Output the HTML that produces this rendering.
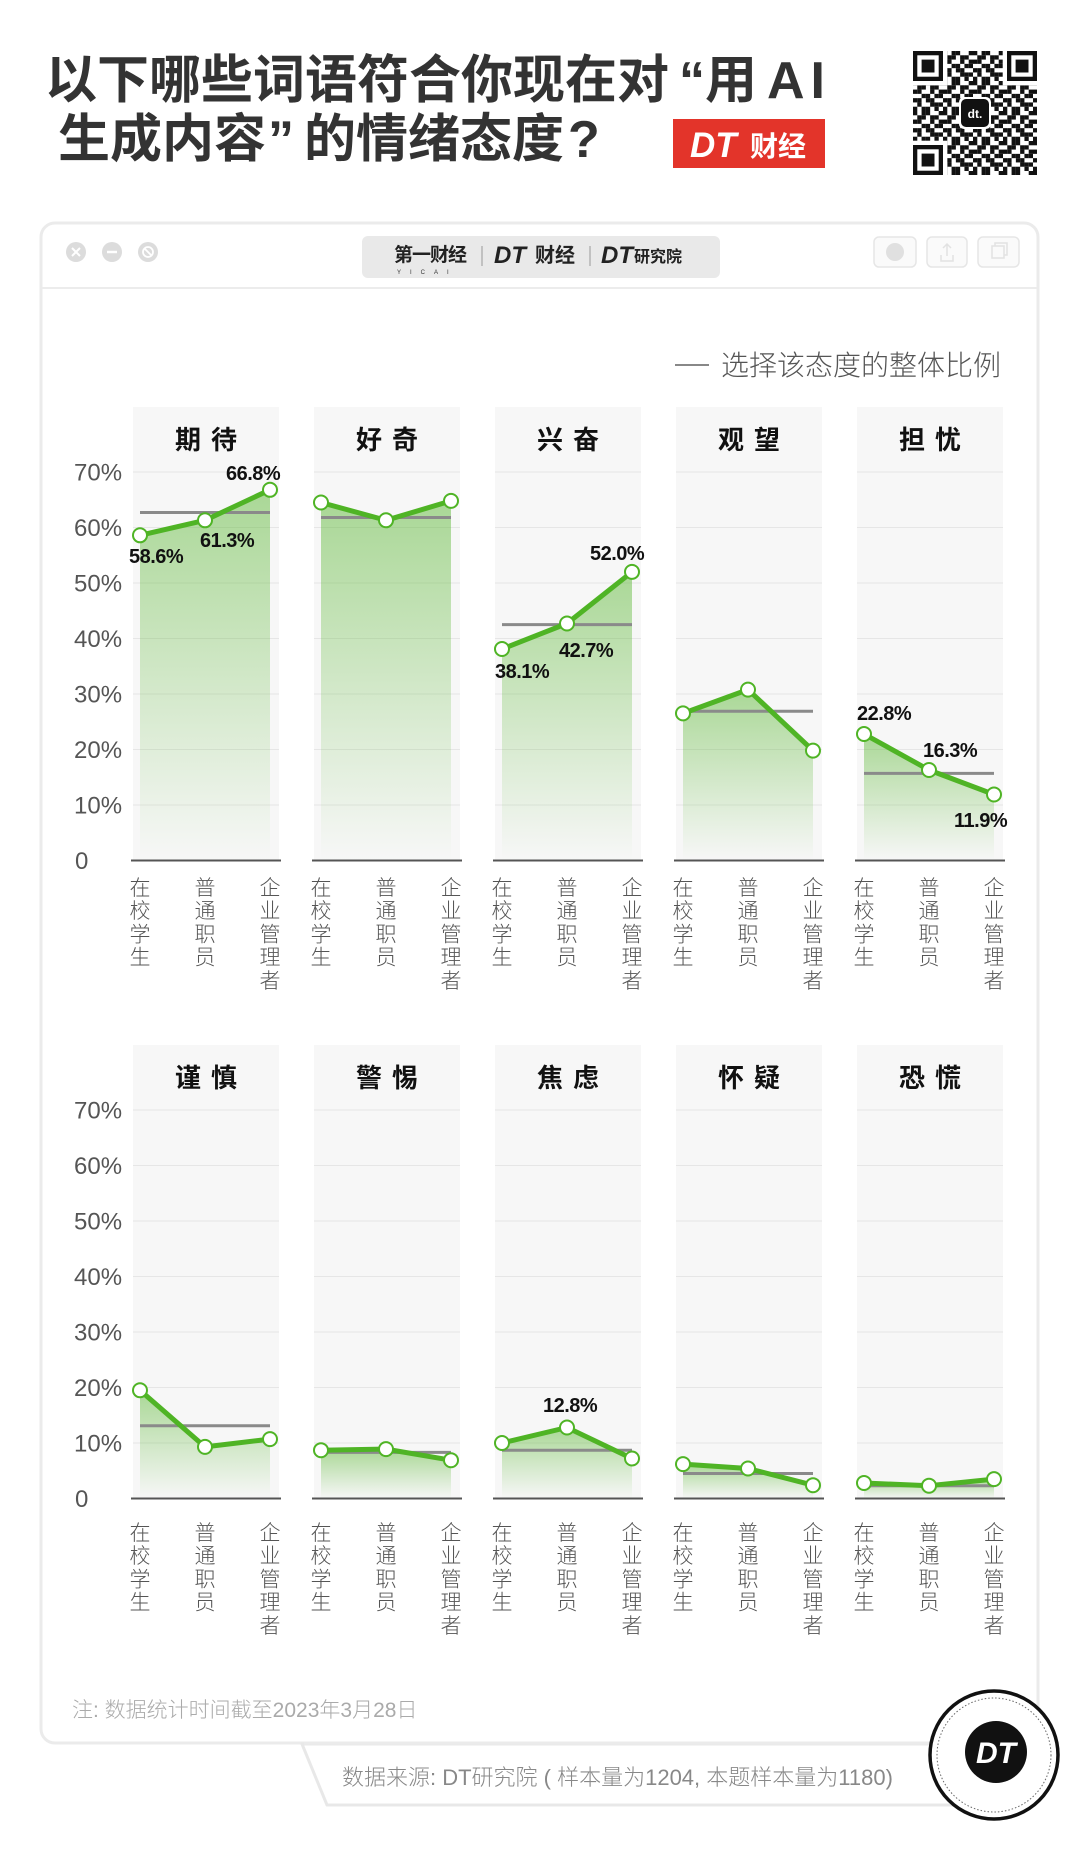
<!DOCTYPE html>
<html>
<head>
<meta charset="utf-8">
<style>
  html,body{margin:0;padding:0;background:#fff;}
  svg{display:block;}
  .t{font-family:"Liberation Sans","Noto Sans CJK SC",sans-serif;}
  .ttl{font-size:52px;font-weight:700;fill:#333;}
  .yl{font-size:24px;fill:#555;}
  .xl{font-size:21px;fill:#555;text-anchor:middle;font-weight:300;}
  .pt{font-size:26px;font-weight:700;fill:#111;}
  .vl{font-size:20px;font-weight:700;fill:#111;letter-spacing:-0.5px;}
  .gl{stroke:#e6e6e6;stroke-width:1;fill:none;}
  .ax{stroke:#555;stroke-width:2;fill:none;}
  .ov{stroke:#8a8a8a;stroke-width:3;}
  .ln{fill:none;stroke:#4fb425;stroke-width:5;stroke-linejoin:round;stroke-linecap:round;}
  .dot{fill:#fff;stroke:#4fb425;stroke-width:2;}
  .pb{fill:#f7f7f7;}
  .ar{fill:url(#gf);}
</style>
</head>
<body>
<svg width="1080" height="1850" viewBox="0 0 1080 1850" xmlns="http://www.w3.org/2000/svg">
<defs>
  <linearGradient id="gf" x1="0" y1="0" x2="0" y2="1">
    <stop offset="0" stop-color="#5cb835" stop-opacity="0.5"/>
    <stop offset="1" stop-color="#5cb835" stop-opacity="0"/>
  </linearGradient>
  <pattern id="qr" patternUnits="userSpaceOnUse" x="913" y="51" width="30" height="30">
    <g fill="#111">
      <rect x="0" y="0" width="4.3" height="4.3"/><rect x="8.57" y="0" width="4.3" height="4.3"/><rect x="12.86" y="0" width="4.3" height="4.3"/><rect x="25.71" y="0" width="4.3" height="4.3"/>
      <rect x="4.28" y="4.28" width="4.3" height="4.3"/><rect x="8.57" y="4.28" width="4.3" height="4.3"/><rect x="17.14" y="4.28" width="4.3" height="4.3"/><rect x="21.43" y="4.28" width="4.3" height="4.3"/>
      <rect x="0" y="8.57" width="4.3" height="4.3"/><rect x="4.28" y="8.57" width="4.3" height="4.3"/><rect x="17.14" y="8.57" width="4.3" height="4.3"/><rect x="25.71" y="8.57" width="4.3" height="4.3"/>
      <rect x="8.57" y="12.86" width="4.3" height="4.3"/><rect x="12.86" y="12.86" width="4.3" height="4.3"/><rect x="21.43" y="12.86" width="4.3" height="4.3"/><rect x="25.71" y="12.86" width="4.3" height="4.3"/>
      <rect x="0" y="17.14" width="4.3" height="4.3"/><rect x="4.28" y="17.14" width="4.3" height="4.3"/><rect x="12.86" y="17.14" width="4.3" height="4.3"/><rect x="17.14" y="17.14" width="4.3" height="4.3"/>
      <rect x="4.28" y="21.43" width="4.3" height="4.3"/><rect x="17.14" y="21.43" width="4.3" height="4.3"/><rect x="21.43" y="21.43" width="4.3" height="4.3"/><rect x="25.71" y="21.43" width="4.3" height="4.3"/>
      <rect x="0" y="25.71" width="4.3" height="4.3"/><rect x="8.57" y="25.71" width="4.3" height="4.3"/><rect x="12.86" y="25.71" width="4.3" height="4.3"/><rect x="21.43" y="25.71" width="4.3" height="4.3"/>
    </g>
  </pattern>
</defs>

<!-- Header title -->
<text class="t ttl" x="45" y="98">以下哪些词语符合你现在对</text>
<text class="t ttl" x="679" y="98">“</text>
<text class="t ttl" x="705" y="98">用</text>
<text class="t ttl" x="767" y="98" textLength="58" lengthAdjust="spacing">AI</text>
<text class="t ttl" x="58" y="157">生成内容</text>
<text class="t ttl" x="268" y="157">”</text>
<text class="t ttl" x="304" y="157">的情绪态度</text>
<text class="t ttl" x="568" y="157">?</text>

<!-- Red logo -->
<rect x="673" y="119" width="152" height="49" fill="#e3342a"/>
<text class="t" x="690" y="157" font-size="35" font-weight="700" font-style="italic" fill="#fff">DT</text>
<text class="t" x="750" y="156" font-size="28" font-weight="700" fill="#fff">财经</text>

<!-- QR code -->
<rect x="913" y="51" width="124" height="124" fill="url(#qr)"/>
<g>
  <rect x="913" y="51" width="34.3" height="34.3" fill="#fff"/>
  <rect x="913" y="51" width="30" height="30" fill="#111"/>
  <rect x="917.3" y="55.3" width="21.4" height="21.4" fill="#fff"/>
  <rect x="921.6" y="59.6" width="12.9" height="12.9" fill="#111"/>

  <rect x="1002.7" y="51" width="34.3" height="34.3" fill="#fff"/>
  <rect x="1007" y="51" width="30" height="30" fill="#111"/>
  <rect x="1011.3" y="55.3" width="21.4" height="21.4" fill="#fff"/>
  <rect x="1015.6" y="59.6" width="12.9" height="12.9" fill="#111"/>

  <rect x="913" y="140.7" width="34.3" height="34.3" fill="#fff"/>
  <rect x="913" y="145" width="30" height="30" fill="#111"/>
  <rect x="917.3" y="149.3" width="21.4" height="21.4" fill="#fff"/>
  <rect x="921.6" y="153.6" width="12.9" height="12.9" fill="#111"/>

  <rect x="959" y="97" width="32" height="32" rx="5" fill="#fff"/>
  <rect x="961" y="99" width="28" height="28" rx="5" fill="#111"/>
  <text class="t" x="975" y="118" font-size="12" font-weight="700" fill="#fff" text-anchor="middle">dt.</text>
</g>

<!-- Window -->
<rect x="41" y="223" width="997" height="1520" rx="14" fill="#fff" stroke="#ebebeb" stroke-width="3"/>
<line x1="42" y1="288" x2="1037" y2="288" stroke="#ececec" stroke-width="2"/>
<!-- window buttons -->
<circle cx="76" cy="252" r="10" fill="#dcdcdc"/>
<path d="M72 248l8 8M80 248l-8 8" stroke="#fff" stroke-width="2"/>
<circle cx="112" cy="252" r="10" fill="#dcdcdc"/>
<path d="M107 252h10" stroke="#fff" stroke-width="2.5"/>
<circle cx="148" cy="252" r="10" fill="#dcdcdc"/>
<circle cx="148" cy="252" r="5" fill="none" stroke="#fff" stroke-width="1.8"/>
<path d="M144.5 248.5l7 7" stroke="#fff" stroke-width="1.8"/>
<!-- pill -->
<rect x="362" y="236" width="358" height="42" rx="6" fill="#e9e9e9"/>
<text class="t" x="394" y="261" font-size="19" font-weight="700" fill="#222" letter-spacing="-1">第一财经</text>
<text class="t" x="397" y="274" font-size="6" fill="#333" letter-spacing="9">YICAI</text>
<line x1="482" y1="246" x2="482" y2="266" stroke="#999" stroke-width="1"/>
<text class="t" x="494" y="263" font-size="24" font-weight="700" font-style="italic" fill="#222">DT</text>
<text class="t" x="535" y="262" font-size="20" font-weight="700" fill="#222">财经</text>
<line x1="590" y1="246" x2="590" y2="266" stroke="#999" stroke-width="1"/>
<text class="t" x="601" y="263" font-size="24" font-weight="700" font-style="italic" fill="#222">DT</text>
<text class="t" x="634" y="262" font-size="16" font-weight="700" fill="#222">研究院</text>
<!-- right buttons -->
<rect x="874" y="237" width="42" height="30" rx="5" fill="#fafafa" stroke="#e6e6e6" stroke-width="1.5"/>
<circle cx="895" cy="252" r="9" fill="#e0e0e0"/>
<rect x="927" y="237" width="40" height="30" rx="5" fill="#fafafa" stroke="#e6e6e6" stroke-width="1.5"/>
<path d="M941 255v6h12v-6M947 244v12M943 248l4-4 4 4" fill="none" stroke="#e2e2e2" stroke-width="1.5"/>
<rect x="978" y="237" width="41" height="30" rx="5" fill="#fafafa" stroke="#e6e6e6" stroke-width="1.5"/>
<rect x="992" y="246" width="12" height="12" fill="none" stroke="#e2e2e2" stroke-width="1.5"/>
<path d="M995 246v-3h12v12h-3" fill="none" stroke="#e2e2e2" stroke-width="1.5"/>

<!-- Legend -->
<line x1="675" y1="365" x2="709" y2="365" stroke="#888" stroke-width="2"/>
<text class="t" x="721" y="375" font-size="28" font-weight="300" fill="#555">选择该态度的整体比例</text>

<!-- ===== TOP ROW ===== -->
<g>
  <rect class="pb" x="133" y="407" width="146" height="453"/>
  <rect class="pb" x="314" y="407" width="146" height="453"/>
  <rect class="pb" x="495" y="407" width="146" height="453"/>
  <rect class="pb" x="676" y="407" width="146" height="453"/>
  <rect class="pb" x="857" y="407" width="146" height="453"/>
  <path class="gl" d="M133 472h146M314 472h146M495 472h146M676 472h146M857 472h146
  M133 527.5h146M314 527.5h146M495 527.5h146M676 527.5h146M857 527.5h146
  M133 583h146M314 583h146M495 583h146M676 583h146M857 583h146
  M133 638.5h146M314 638.5h146M495 638.5h146M676 638.5h146M857 638.5h146
  M133 694h146M314 694h146M495 694h146M676 694h146M857 694h146
  M133 749.5h146M314 749.5h146M495 749.5h146M676 749.5h146M857 749.5h146
  M133 805h146M314 805h146M495 805h146M676 805h146M857 805h146"/>
  <path class="ax" d="M131 860.5h150M312 860.5h150M493 860.5h150M674 860.5h150M855 860.5h150"/>

  <!-- y labels -->
  <text class="t yl" x="74" y="480.5">70%</text>
  <text class="t yl" x="74" y="536">60%</text>
  <text class="t yl" x="74" y="591.5">50%</text>
  <text class="t yl" x="74" y="647">40%</text>
  <text class="t yl" x="74" y="702.5">30%</text>
  <text class="t yl" x="74" y="758">20%</text>
  <text class="t yl" x="74" y="813.5">10%</text>
  <text class="t yl" x="75" y="869">0</text>

  <!-- panel titles -->
  <text class="t pt" x="175" y="449">期</text><text class="t pt" x="211" y="449">待</text>
  <text class="t pt" x="356" y="449">好</text><text class="t pt" x="392" y="449">奇</text>
  <text class="t pt" x="537" y="449">兴</text><text class="t pt" x="573" y="449">奋</text>
  <text class="t pt" x="718" y="449">观</text><text class="t pt" x="754" y="449">望</text>
  <text class="t pt" x="899" y="449">担</text><text class="t pt" x="935" y="449">忧</text>

  <!-- areas -->
  <polygon class="ar" points="140,535.3 205,520.3 270,489.8 270,860.5 140,860.5"/>
  <polygon class="ar" points="321,502.5 386,520.3 451,500.9 451,860.5 321,860.5"/>
  <polygon class="ar" points="502,649 567,623.5 632,571.9 632,860.5 502,860.5"/>
  <polygon class="ar" points="683,713.4 748,689.6 813,750.6 813,860.5 683,860.5"/>
  <polygon class="ar" points="864,734 929,770 994,794.5 994,860.5 864,860.5"/>

  <!-- overall lines -->
  <line class="ov" x1="140" y1="512.5" x2="270" y2="512.5"/>
  <line class="ov" x1="321" y1="517.5" x2="451" y2="517.5"/>
  <line class="ov" x1="502" y1="624.6" x2="632" y2="624.6"/>
  <line class="ov" x1="683" y1="711.2" x2="813" y2="711.2"/>
  <line class="ov" x1="864" y1="773.4" x2="994" y2="773.4"/>

  <!-- series -->
  <polyline class="ln" points="140,535.3 205,520.3 270,489.8"/>
  <polyline class="ln" points="321,502.5 386,520.3 451,500.9"/>
  <polyline class="ln" points="502,649 567,623.5 632,571.9"/>
  <polyline class="ln" points="683,713.4 748,689.6 813,750.6"/>
  <polyline class="ln" points="864,734 929,770 994,794.5"/>

  <circle class="dot" cx="140" cy="535.3" r="7"/><circle class="dot" cx="205" cy="520.3" r="7"/><circle class="dot" cx="270" cy="489.8" r="7"/>
  <circle class="dot" cx="321" cy="502.5" r="7"/><circle class="dot" cx="386" cy="520.3" r="7"/><circle class="dot" cx="451" cy="500.9" r="7"/>
  <circle class="dot" cx="502" cy="649" r="7"/><circle class="dot" cx="567" cy="623.5" r="7"/><circle class="dot" cx="632" cy="571.9" r="7"/>
  <circle class="dot" cx="683" cy="713.4" r="7"/><circle class="dot" cx="748" cy="689.6" r="7"/><circle class="dot" cx="813" cy="750.6" r="7"/>
  <circle class="dot" cx="864" cy="734" r="7"/><circle class="dot" cx="929" cy="770" r="7"/><circle class="dot" cx="994" cy="794.5" r="7"/>

  <!-- value labels -->
  <text class="t vl" x="129" y="563">58.6%</text>
  <text class="t vl" x="200" y="547">61.3%</text>
  <text class="t vl" x="226" y="480">66.8%</text>
  <text class="t vl" x="495" y="678">38.1%</text>
  <text class="t vl" x="559" y="657">42.7%</text>
  <text class="t vl" x="590" y="560">52.0%</text>
  <text class="t vl" x="857" y="720">22.8%</text>
  <text class="t vl" x="923" y="757">16.3%</text>
  <text class="t vl" x="954" y="827">11.9%</text>

  <!-- x labels -->
  <text class="t xl" x="140 140 140 140" y="895 918.2 941.4 964.6">在校学生</text>
  <text class="t xl" x="205 205 205 205" y="895 918.2 941.4 964.6">普通职员</text>
  <text class="t xl" x="270 270 270 270 270" y="895 918.2 941.4 964.6 987.8">企业管理者</text>
  <text class="t xl" x="321 321 321 321" y="895 918.2 941.4 964.6">在校学生</text>
  <text class="t xl" x="386 386 386 386" y="895 918.2 941.4 964.6">普通职员</text>
  <text class="t xl" x="451 451 451 451 451" y="895 918.2 941.4 964.6 987.8">企业管理者</text>
  <text class="t xl" x="502 502 502 502" y="895 918.2 941.4 964.6">在校学生</text>
  <text class="t xl" x="567 567 567 567" y="895 918.2 941.4 964.6">普通职员</text>
  <text class="t xl" x="632 632 632 632 632" y="895 918.2 941.4 964.6 987.8">企业管理者</text>
  <text class="t xl" x="683 683 683 683" y="895 918.2 941.4 964.6">在校学生</text>
  <text class="t xl" x="748 748 748 748" y="895 918.2 941.4 964.6">普通职员</text>
  <text class="t xl" x="813 813 813 813 813" y="895 918.2 941.4 964.6 987.8">企业管理者</text>
  <text class="t xl" x="864 864 864 864" y="895 918.2 941.4 964.6">在校学生</text>
  <text class="t xl" x="929 929 929 929" y="895 918.2 941.4 964.6">普通职员</text>
  <text class="t xl" x="994 994 994 994 994" y="895 918.2 941.4 964.6 987.8">企业管理者</text>
</g>

<!-- ===== BOTTOM ROW ===== -->
<g>
  <rect class="pb" x="133" y="1045" width="146" height="453"/>
  <rect class="pb" x="314" y="1045" width="146" height="453"/>
  <rect class="pb" x="495" y="1045" width="146" height="453"/>
  <rect class="pb" x="676" y="1045" width="146" height="453"/>
  <rect class="pb" x="857" y="1045" width="146" height="453"/>
  <path class="gl" d="M133 1110h146M314 1110h146M495 1110h146M676 1110h146M857 1110h146
  M133 1165.5h146M314 1165.5h146M495 1165.5h146M676 1165.5h146M857 1165.5h146
  M133 1221h146M314 1221h146M495 1221h146M676 1221h146M857 1221h146
  M133 1276.5h146M314 1276.5h146M495 1276.5h146M676 1276.5h146M857 1276.5h146
  M133 1332h146M314 1332h146M495 1332h146M676 1332h146M857 1332h146
  M133 1387.5h146M314 1387.5h146M495 1387.5h146M676 1387.5h146M857 1387.5h146
  M133 1443h146M314 1443h146M495 1443h146M676 1443h146M857 1443h146"/>
  <path class="ax" d="M131 1498.5h150M312 1498.5h150M493 1498.5h150M674 1498.5h150M855 1498.5h150"/>

  <text class="t yl" x="74" y="1118.5">70%</text>
  <text class="t yl" x="74" y="1174">60%</text>
  <text class="t yl" x="74" y="1229.5">50%</text>
  <text class="t yl" x="74" y="1285">40%</text>
  <text class="t yl" x="74" y="1340.5">30%</text>
  <text class="t yl" x="74" y="1396">20%</text>
  <text class="t yl" x="74" y="1451.5">10%</text>
  <text class="t yl" x="75" y="1507">0</text>

  <text class="t pt" x="175" y="1087">谨</text><text class="t pt" x="211" y="1087">慎</text>
  <text class="t pt" x="356" y="1087">警</text><text class="t pt" x="392" y="1087">惕</text>
  <text class="t pt" x="537" y="1087">焦</text><text class="t pt" x="573" y="1087">虑</text>
  <text class="t pt" x="718" y="1087">怀</text><text class="t pt" x="754" y="1087">疑</text>
  <text class="t pt" x="899" y="1087">恐</text><text class="t pt" x="935" y="1087">慌</text>

  <polygon class="ar" points="140,1390.3 205,1446.9 270,1439.1 270,1498.5 140,1498.5"/>
  <polygon class="ar" points="321,1450.2 386,1449.1 451,1460.2 451,1498.5 321,1498.5"/>
  <polygon class="ar" points="502,1443 567,1427.5 632,1458.5 632,1498.5 502,1498.5"/>
  <polygon class="ar" points="683,1464.1 748,1468.5 813,1485.2 813,1498.5 683,1498.5"/>
  <polygon class="ar" points="864,1483 929,1485.7 994,1479.1 994,1498.5 864,1498.5"/>

  <line class="ov" x1="140" y1="1425.8" x2="270" y2="1425.8"/>
  <line class="ov" x1="321" y1="1452.4" x2="451" y2="1452.4"/>
  <line class="ov" x1="502" y1="1450.2" x2="632" y2="1450.2"/>
  <line class="ov" x1="683" y1="1473.5" x2="813" y2="1473.5"/>
  <line class="ov" x1="864" y1="1485.7" x2="994" y2="1485.7"/>

  <polyline class="ln" points="140,1390.3 205,1446.9 270,1439.1"/>
  <polyline class="ln" points="321,1450.2 386,1449.1 451,1460.2"/>
  <polyline class="ln" points="502,1443 567,1427.5 632,1458.5"/>
  <polyline class="ln" points="683,1464.1 748,1468.5 813,1485.2"/>
  <polyline class="ln" points="864,1483 929,1485.7 994,1479.1"/>

  <circle class="dot" cx="140" cy="1390.3" r="7"/><circle class="dot" cx="205" cy="1446.9" r="7"/><circle class="dot" cx="270" cy="1439.1" r="7"/>
  <circle class="dot" cx="321" cy="1450.2" r="7"/><circle class="dot" cx="386" cy="1449.1" r="7"/><circle class="dot" cx="451" cy="1460.2" r="7"/>
  <circle class="dot" cx="502" cy="1443" r="7"/><circle class="dot" cx="567" cy="1427.5" r="7"/><circle class="dot" cx="632" cy="1458.5" r="7"/>
  <circle class="dot" cx="683" cy="1464.1" r="7"/><circle class="dot" cx="748" cy="1468.5" r="7"/><circle class="dot" cx="813" cy="1485.2" r="7"/>
  <circle class="dot" cx="864" cy="1483" r="7"/><circle class="dot" cx="929" cy="1485.7" r="7"/><circle class="dot" cx="994" cy="1479.1" r="7"/>

  <text class="t vl" x="543" y="1412">12.8%</text>

  <text class="t xl" x="140 140 140 140" y="1540 1563.2 1586.4 1609.6">在校学生</text>
  <text class="t xl" x="205 205 205 205" y="1540 1563.2 1586.4 1609.6">普通职员</text>
  <text class="t xl" x="270 270 270 270 270" y="1540 1563.2 1586.4 1609.6 1632.8">企业管理者</text>
  <text class="t xl" x="321 321 321 321" y="1540 1563.2 1586.4 1609.6">在校学生</text>
  <text class="t xl" x="386 386 386 386" y="1540 1563.2 1586.4 1609.6">普通职员</text>
  <text class="t xl" x="451 451 451 451 451" y="1540 1563.2 1586.4 1609.6 1632.8">企业管理者</text>
  <text class="t xl" x="502 502 502 502" y="1540 1563.2 1586.4 1609.6">在校学生</text>
  <text class="t xl" x="567 567 567 567" y="1540 1563.2 1586.4 1609.6">普通职员</text>
  <text class="t xl" x="632 632 632 632 632" y="1540 1563.2 1586.4 1609.6 1632.8">企业管理者</text>
  <text class="t xl" x="683 683 683 683" y="1540 1563.2 1586.4 1609.6">在校学生</text>
  <text class="t xl" x="748 748 748 748" y="1540 1563.2 1586.4 1609.6">普通职员</text>
  <text class="t xl" x="813 813 813 813 813" y="1540 1563.2 1586.4 1609.6 1632.8">企业管理者</text>
  <text class="t xl" x="864 864 864 864" y="1540 1563.2 1586.4 1609.6">在校学生</text>
  <text class="t xl" x="929 929 929 929" y="1540 1563.2 1586.4 1609.6">普通职员</text>
  <text class="t xl" x="994 994 994 994 994" y="1540 1563.2 1586.4 1609.6 1632.8">企业管理者</text>
</g>

<!-- Footer note -->
<text class="t" x="72" y="1717" font-size="21" font-weight="300" fill="#aaa">注: 数据统计时间截至2023年3月28日</text>

<!-- Source tab -->
<polygon points="302,1744 327,1805 965,1805 965,1744" fill="#fff" stroke="#e8e8e8" stroke-width="3" stroke-linejoin="round"/>
<line x1="304" y1="1743" x2="962" y2="1743" stroke="#ebebeb" stroke-width="3"/>
<text class="t" x="342" y="1785" font-size="22" font-weight="300" fill="#888">数据来源: DT研究院 ( 样本量为1204, 本题样本量为1180)</text>

<!-- DT badge -->
<circle cx="994" cy="1755" r="64" fill="#fff" stroke="#111" stroke-width="3.5"/>
<circle cx="994" cy="1755" r="57" fill="none" stroke="#666" stroke-width="1" stroke-dasharray="1.5 2"/>
<circle cx="996" cy="1752" r="31" fill="#111"/>
<text class="t" x="996" y="1763" font-size="30" font-weight="700" font-style="italic" fill="#fff" text-anchor="middle">DT</text>
</svg>
</body>
</html>
